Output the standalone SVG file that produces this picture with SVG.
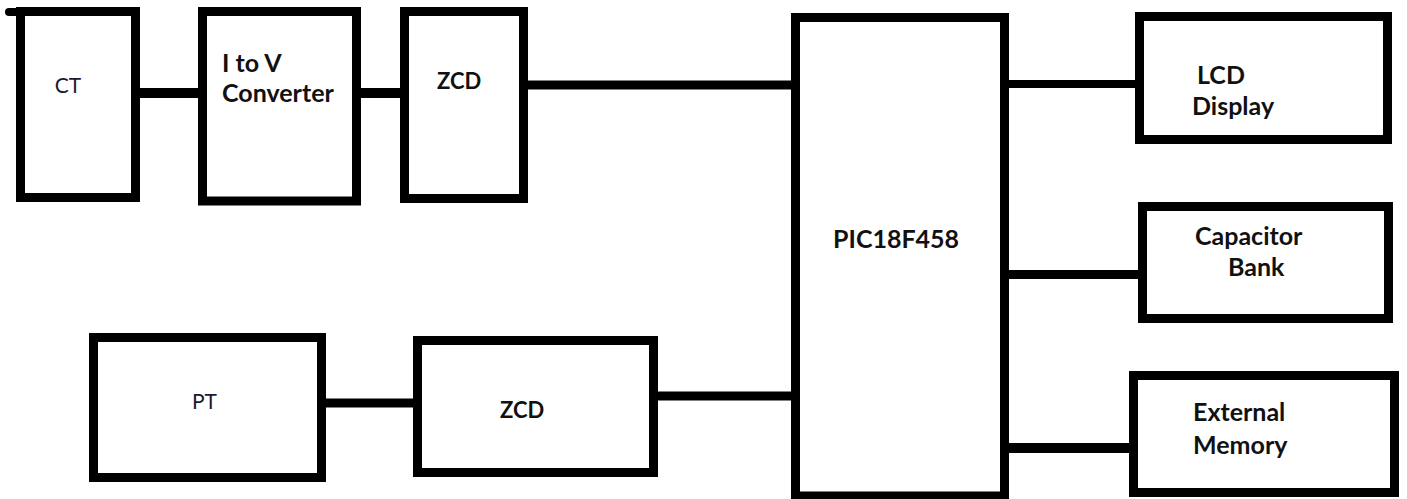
<svg xmlns="http://www.w3.org/2000/svg" width="1407" height="499" viewBox="0 0 1407 499">
<style>
.box{fill:#fff;stroke:#000;stroke-width:9}
.wire{stroke:#000;stroke-width:9;fill:none}
.b{font-family:Lato,"Liberation Sans",sans-serif;font-weight:bold;font-size:25px;fill:#111}
.r{font-family:Lato,"Liberation Sans",sans-serif;font-size:21px;fill:#1a1a2e}
</style>
<rect width="1407" height="499" fill="#fff"/>
<g id="connectors">
<line class="wire" x1="138" y1="93" x2="200" y2="93" style="stroke-width:10"/>
<line class="wire" x1="358" y1="93" x2="402" y2="93" style="stroke-width:10"/>
<line class="wire" x1="526" y1="85" x2="793" y2="85"/>
<line class="wire" x1="1007" y1="84" x2="1137" y2="84" style="stroke-width:8"/>
<line class="wire" x1="1007" y1="274.5" x2="1140" y2="274.5"/>
<line class="wire" x1="1007" y1="448" x2="1131" y2="448" style="stroke-width:10"/>
<line class="wire" x1="324" y1="403" x2="415" y2="403"/>
<line class="wire" x1="656" y1="396" x2="793" y2="396"/>
</g>
<g id="ct">
<path d="M9 12 H22" stroke="#000" stroke-width="8" stroke-linecap="round"/>
<rect class="box" x="20.5" y="11.5" width="115" height="186"/>
<text class="r" x="68" y="93" text-anchor="middle">CT</text>
</g>
<g id="itov">
<rect class="box" x="202.5" y="11.5" width="154" height="189.5"/>
<text class="b" x="222" y="72">I to V</text>
<text class="b" x="222" y="102">Converter</text>
</g>
<g id="zcd1">
<rect class="box" x="404.5" y="11.5" width="119" height="187"/>
<text class="b" x="437" y="89" style="font-size:22px">ZCD</text>
</g>
<g id="pic">
<rect class="box" x="795.5" y="17.5" width="209" height="478.5"/>
<text class="b" x="833" y="248">PIC18F458</text>
</g>
<g id="lcd">
<rect class="box" x="1139.5" y="16.5" width="248" height="123"/>
<text class="b" x="1197" y="84">LCD</text>
<text class="b" x="1192" y="115">Display</text>
</g>
<g id="cap">
<rect class="box" x="1142.5" y="206.5" width="246" height="112"/>
<text class="b" x="1195" y="245">Capacitor</text>
<text class="b" x="1228" y="276">Bank</text>
</g>
<g id="mem">
<rect class="box" x="1133.5" y="375.5" width="261" height="117"/>
<text class="b" x="1193" y="421">External</text>
<text class="b" x="1193" y="454">Memory</text>
</g>
<g id="pt">
<rect class="box" x="93.5" y="337.5" width="228" height="140"/>
<text class="r" x="192" y="409">PT</text>
</g>
<g id="zcd2">
<rect class="box" x="417.5" y="340.5" width="236" height="132"/>
<text class="b" x="500" y="418" style="font-size:22px">ZCD</text>
</g>
</svg>
